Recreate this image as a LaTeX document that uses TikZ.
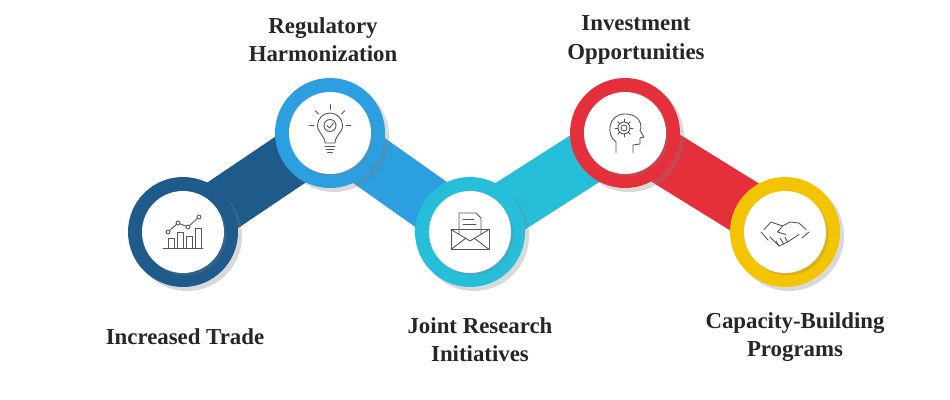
\documentclass[tikz,border=0pt]{standalone}
\usepackage{fontspec}
\setmainfont{Liberation Serif}
\usetikzlibrary{positioning,shadows}
\definecolor{cdark}{HTML}{1E5A8A}
\definecolor{clight}{HTML}{2C9FE0}
\definecolor{ccyan}{HTML}{26BED9}
\definecolor{cred}{HTML}{E52F3A}
\definecolor{cyellow}{HTML}{F5C400}
\definecolor{cicon}{HTML}{555555}
\tikzset{
  ring/.style={circle, minimum size=2.2cm, inner sep=0pt, drop shadow={opacity=.3}},
  disc/.style={circle, fill=white, minimum size=1.64cm, inner sep=0pt, drop shadow={opacity=.25,shadow xshift=.05cm,shadow yshift=-.05cm}},
  band/.style={line width=1.1cm},
  lbl/.style={font=\bfseries\fontsize{13}{16}\selectfont, align=center, text=black!85},
  icon/.style={draw=cicon, line width=0.5pt, line cap=round, line join=round}
}
\begin{document}
\begin{tikzpicture}
  \useasboundingbox (0,0) rectangle (19,-8);
  \coordinate (pa) at (3.66,-4.64);
  \coordinate (pb) at (6.6,-2.66);
  \coordinate (pc) at (9.4,-4.64);
  \coordinate (pd) at (12.5,-2.66);
  \coordinate (pe) at (15.7,-4.64);
  % bands
  \draw[band, cdark] (pa) -- (pb);
  \draw[band, clight] (pb) -- (pc);
  \draw[band, ccyan] (pc) -- (pd);
  \draw[band, cred] (pd) -- (pe);
  % rings
  \node[ring, fill=cdark] (ra) at (pa) {};
  \node[ring, fill=clight] (rb) at (pb) {};
  \node[ring, fill=ccyan] (rc) at (pc) {};
  \node[ring, fill=cred] (rd) at (pd) {};
  \node[ring, fill=cyellow] (re) at (pe) {};
  \foreach \n in {a,b,c,d,e}
    \node[disc] (d\n) at (p\n) {};
  % labels
  \node[lbl] (la) at (3.7,-6.74) {Increased Trade};
  \node[lbl] (lb) at (6.46,-0.8) {Regulatory\\Harmonization};
  \node[lbl] (lc) at (9.6,-6.8) {Joint Research\\Initiatives};
  \node[lbl] (ld) at (12.72,-0.8) {Investment\\Opportunities};
  \node[lbl] (le) at (15.9,-6.74) {Capacity-Building\\Programs};
  % icon: bar chart
  \begin{scope}[shift={(pa)}, icon]
    \draw (-0.4,-0.32) -- (0.4,-0.32);
    \draw (-0.3,-0.32) rectangle (-0.18,-0.12);
    \draw (-0.12,-0.32) rectangle (0,0);
    \draw (0.06,-0.32) rectangle (0.18,-0.08);
    \draw (0.24,-0.32) rectangle (0.36,0.08);
    \draw (-0.3,0) -- (-0.1,0.18) -- (0.1,0.1) -- (0.32,0.3);
    \foreach \p in {(-0.3,0),(-0.1,0.18),(0.1,0.1),(0.32,0.3)} \fill[white] \p circle (0.04);
    \foreach \p in {(-0.3,0),(-0.1,0.18),(0.1,0.1),(0.32,0.3)} \draw \p circle (0.04);
  \end{scope}
  % icon: bulb
  \begin{scope}[shift={(pb)}, icon]
    \draw (-0.1,-0.2) .. controls (-0.1,-0.05) and (-0.25,0) .. (-0.25,0.15)
      arc (180:0:0.25) .. controls (0.25,0) and (0.1,-0.05) .. (0.1,-0.2) -- cycle;
    \draw (-0.1,-0.26) -- (0.1,-0.26) (-0.08,-0.32) -- (0.08,-0.32) (-0.05,-0.38) -- (0.05,-0.38);
    \draw (0,0.15) circle (0.12);
    \draw (-0.06,0.15) -- (-0.01,0.1) -- (0.07,0.2);
    \foreach \a in {90,135,45,180,0} \draw (\a:0.32) ++(0,0.15) -- ++(\a:0.1);
  \end{scope}
  % icon: envelope
  \begin{scope}[shift={(pc)}, icon]
    \draw (-0.38,-0.35) rectangle (0.38,0.05);
    \draw (-0.38,0.05) -- (0,-0.18) -- (0.38,0.05);
    \draw (-0.38,-0.35) -- (-0.08,-0.12) (0.38,-0.35) -- (0.08,-0.12);
    \draw (-0.22,-0.04) -- (-0.22,0.38) -- (0.12,0.38) -- (0.22,0.28) -- (0.22,-0.04);
    \draw (-0.14,0.26) -- (0.08,0.26) (-0.14,0.16) -- (0.12,0.16) (-0.14,0.06) -- (0.12,0.06);
  \end{scope}
  % icon: head with gear
  \begin{scope}[shift={(pd)}, icon]
    \draw (-0.18,-0.4) -- (-0.18,-0.18) .. controls (-0.38,-0.05) and (-0.35,0.38) .. (0,0.38)
      .. controls (0.3,0.38) and (0.35,0.15) .. (0.3,0.05) -- (0.38,-0.08) -- (0.3,-0.1)
      -- (0.3,-0.22) -- (0.16,-0.24) -- (0.16,-0.4);
    \draw (-0.02,0.1) circle (0.06);
    \foreach \a in {0,45,...,315} \draw (-0.02,0.1) ++(\a:0.12) -- ++(\a:0.06);
    \draw (-0.02,0.1) circle (0.12);
  \end{scope}
  % icon: handshake
  \begin{scope}[shift={(pe)}, icon]
    \draw (-0.42,0.05) -- (-0.28,0.2) -- (-0.05,0.12) -- (0.1,0.2) -- (0.28,0.18) -- (0.42,0.05);
    \draw (-0.3,-0.1) -- (-0.12,-0.28) -- (0.05,-0.2) -- (0.28,-0.05);
    \draw (-0.05,0.12) -- (-0.15,0.0) -- (0.02,-0.05);
    \draw (-0.12,-0.28) -- (-0.18,-0.18) (-0.03,-0.24) -- (-0.1,-0.12) (0.05,-0.2) -- (0,-0.1);
    \draw (-0.48,0.0) -- (-0.34,-0.16) (0.48,0.0) -- (0.34,-0.12);
  \end{scope}
\end{tikzpicture}
\end{document}
